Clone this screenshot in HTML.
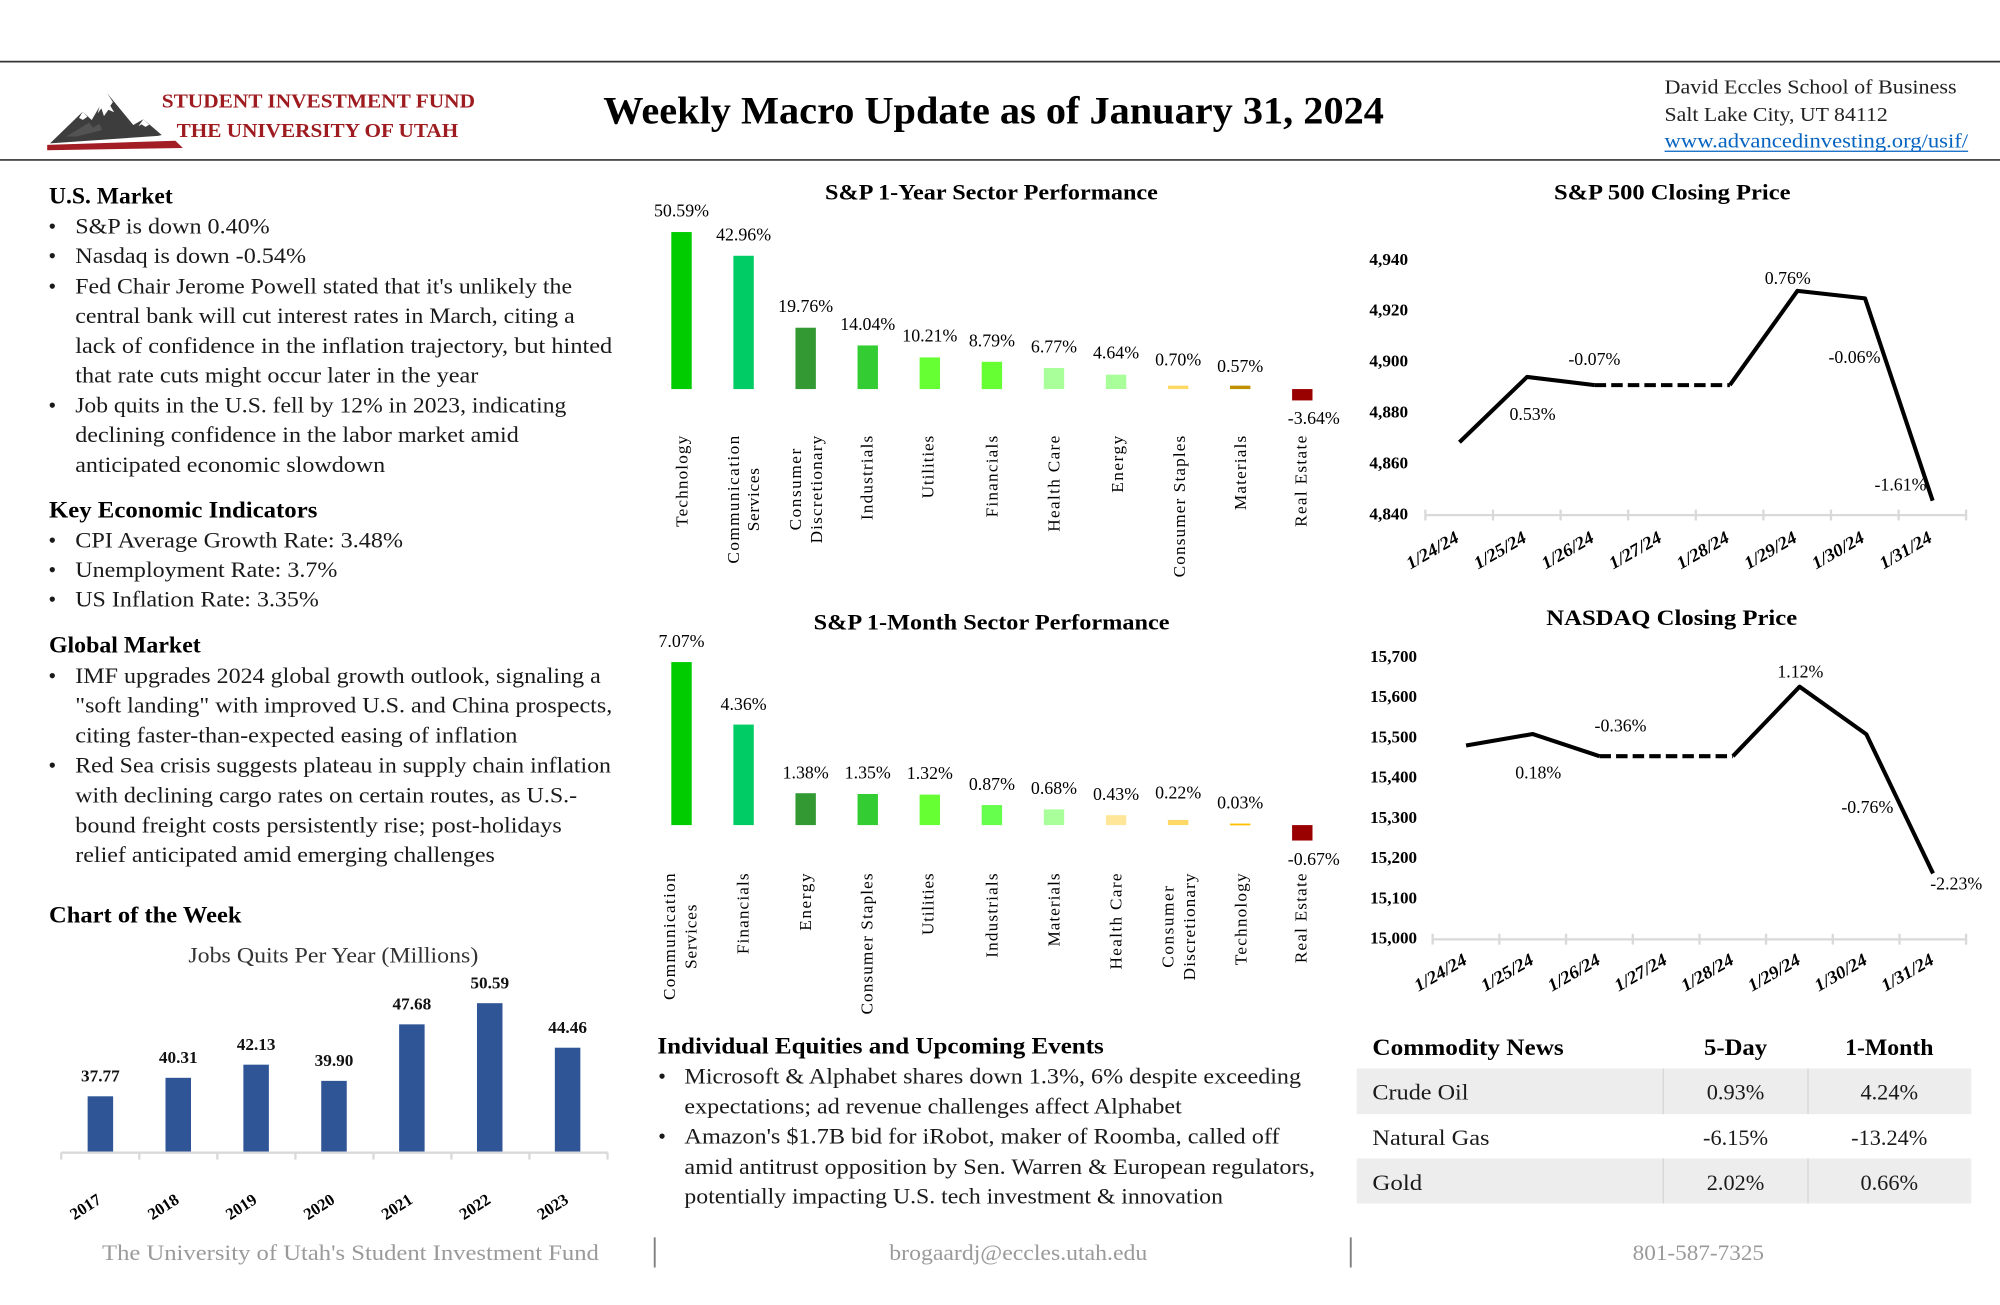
<!DOCTYPE html>
<html><head><meta charset="utf-8"><style>html,body{margin:0;padding:0;background:#fff;}svg{display:block}</style></head>
<body>
<svg xmlns="http://www.w3.org/2000/svg" width="2000" height="1305" viewBox="0 0 1568 1023" preserveAspectRatio="none" font-family="'Liberation Serif', serif">
<rect x="0" y="0" width="1568" height="1023" fill="#fff"/>
<!-- header lines -->
<line x1="0" y1="48.3" x2="1568" y2="48.3" stroke="#333" stroke-width="1.3"/>
<line x1="0" y1="125.4" x2="1568" y2="125.4" stroke="#333" stroke-width="1.3"/>
<!-- logo -->
<polygon points="39.2,112.4 64.8,87.6 71.9,94.1 84.1,73.2 104.5,98 112.4,93.5 126.8,105.8 124,106.5 39.2,112.4" fill="#3d3d3d"/>
<polygon points="84.1,73.2 88.5,80 86.5,83 89.5,88 85,86 81.5,91 79.5,85 76.5,89 79,80" fill="#fff"/>
<polygon points="64.8,87.6 68.5,91.5 65,94 62,92.5" fill="#fff"/>
<polygon points="112.4,93.5 117,97.8 114,99.5 111,97.5 108.5,99" fill="#fff"/>
<polygon points="52,107 70,96 73,100 78,97 80,102 60,107" fill="#6a6a6a" opacity="0.5"/>
<polygon points="37,113.6 137.5,110.3 143.4,116 37,117.8" fill="#a31d24"/>
<text x="126.8" y="84.1" font-size="15.5" font-weight="bold" fill="#9e1b20" textLength="245.6" lengthAdjust="spacingAndGlyphs">STUDENT INVESTMENT FUND</text>
<text x="138.5" y="107.4" font-size="15.5" font-weight="bold" fill="#9e1b20" textLength="220.8" lengthAdjust="spacingAndGlyphs">THE UNIVERSITY OF UTAH</text>
<!-- title -->
<text x="473" y="96.7" font-size="31" font-weight="bold" fill="#000" textLength="612" lengthAdjust="spacingAndGlyphs">Weekly Macro Update as of January 31, 2024</text>
<!-- right header -->
<g font-size="16" fill="#222">
<text x="1305" y="73.2" textLength="229" lengthAdjust="spacingAndGlyphs">David Eccles School of Business</text>
<text x="1305" y="94.9" textLength="175" lengthAdjust="spacingAndGlyphs">Salt Lake City, UT 84112</text>
<text x="1305" y="115.8" fill="#0563C1" textLength="238" lengthAdjust="spacingAndGlyphs">www.advancedinvesting.org/usif/</text>
</g>
<line x1="1305" y1="118.6" x2="1543" y2="118.6" stroke="#0563C1" stroke-width="1"/>

<!-- LEFT COLUMN -->
<g fill="#1a1a1a">
<text x="38.4" y="159.5" font-size="18" font-weight="bold" fill="#000" textLength="97" lengthAdjust="spacingAndGlyphs">U.S. Market</text>
<g font-size="17.5">
<text x="41" y="182.9" text-anchor="middle">•</text>
<text x="41" y="206" text-anchor="middle">•</text>
<text x="41" y="230" text-anchor="middle">•</text>
<text x="41" y="323.5" text-anchor="middle">•</text>
<text x="59" y="182.9" textLength="152.5" lengthAdjust="spacingAndGlyphs">S&amp;P is down 0.40%</text>
<text x="59" y="206" textLength="181" lengthAdjust="spacingAndGlyphs">Nasdaq is down -0.54%</text>
<text x="59" y="230" textLength="389.5" lengthAdjust="spacingAndGlyphs">Fed Chair Jerome Powell stated that it's unlikely the</text>
<text x="59" y="253.3" textLength="391.6" lengthAdjust="spacingAndGlyphs">central bank will cut interest rates in March, citing a</text>
<text x="59" y="276.6" textLength="421" lengthAdjust="spacingAndGlyphs">lack of confidence in the inflation trajectory, but hinted</text>
<text x="59" y="300" textLength="316" lengthAdjust="spacingAndGlyphs">that rate cuts might occur later in the year</text>
<text x="59" y="323.5" textLength="385" lengthAdjust="spacingAndGlyphs">Job quits in the U.S. fell by 12% in 2023, indicating</text>
<text x="59" y="346.6" textLength="347.7" lengthAdjust="spacingAndGlyphs">declining confidence in the labor market amid</text>
<text x="59" y="370" textLength="243" lengthAdjust="spacingAndGlyphs">anticipated economic slowdown</text>
</g>
<text x="38.4" y="405.6" font-size="18" font-weight="bold" fill="#000" textLength="210.4" lengthAdjust="spacingAndGlyphs">Key Economic Indicators</text>
<g font-size="17.5">
<text x="41" y="429" text-anchor="middle">•</text>
<text x="41" y="452.3" text-anchor="middle">•</text>
<text x="41" y="475.6" text-anchor="middle">•</text>
<text x="59" y="429" textLength="257" lengthAdjust="spacingAndGlyphs">CPI Average Growth Rate: 3.48%</text>
<text x="59" y="452.3" textLength="205.5" lengthAdjust="spacingAndGlyphs">Unemployment Rate: 3.7%</text>
<text x="59" y="475.6" textLength="191" lengthAdjust="spacingAndGlyphs">US Inflation Rate: 3.35%</text>
</g>
<text x="38.4" y="511.6" font-size="18" font-weight="bold" fill="#000" textLength="119" lengthAdjust="spacingAndGlyphs">Global Market</text>
<g font-size="17.5">
<text x="41" y="535.4" text-anchor="middle">•</text>
<text x="41" y="605.7" text-anchor="middle">•</text>
<text x="59" y="535.4" textLength="412" lengthAdjust="spacingAndGlyphs">IMF upgrades 2024 global growth outlook, signaling a</text>
<text x="59" y="558.5" textLength="421" lengthAdjust="spacingAndGlyphs">"soft landing" with improved U.S. and China prospects,</text>
<text x="59" y="582" textLength="346.7" lengthAdjust="spacingAndGlyphs">citing faster-than-expected easing of inflation</text>
<text x="59" y="605.7" textLength="420" lengthAdjust="spacingAndGlyphs">Red Sea crisis suggests plateau in supply chain inflation</text>
<text x="59" y="629" textLength="393.5" lengthAdjust="spacingAndGlyphs">with declining cargo rates on certain routes, as U.S.-</text>
<text x="59" y="652.7" textLength="381.4" lengthAdjust="spacingAndGlyphs">bound freight costs persistently rise; post-holidays</text>
<text x="59" y="675.8" textLength="329" lengthAdjust="spacingAndGlyphs">relief anticipated amid emerging challenges</text>
</g>
<text x="38.4" y="723" font-size="18" font-weight="bold" fill="#000" textLength="151" lengthAdjust="spacingAndGlyphs">Chart of the Week</text>
<text x="147.7" y="754.7" font-size="17.5" fill="#333" textLength="227.3" lengthAdjust="spacingAndGlyphs">Jobs Quits Per Year (Millions)</text>
</g>

<!-- Jobs chart -->
<g fill="#2F5597">
<rect x="68.7" y="859.4" width="20" height="44.2"/>
<rect x="129.75" y="844.9" width="20" height="58.7"/>
<rect x="190.8" y="834.6" width="20" height="69"/>
<rect x="251.85" y="847.3" width="20" height="56.3"/>
<rect x="312.9" y="803" width="20" height="100.6"/>
<rect x="373.95" y="786.4" width="20" height="117.2"/>
<rect x="435" y="821.3" width="20" height="82.3"/>
</g>
<g stroke="#d9d9d9" stroke-width="1.8">
<line x1="48" y1="903.6" x2="476.3" y2="903.6"/>
<line x1="48" y1="903.6" x2="48" y2="909"/>
<line x1="109.2" y1="903.6" x2="109.2" y2="909"/>
<line x1="170.4" y1="903.6" x2="170.4" y2="909"/>
<line x1="231.6" y1="903.6" x2="231.6" y2="909"/>
<line x1="292.8" y1="903.6" x2="292.8" y2="909"/>
<line x1="353.9" y1="903.6" x2="353.9" y2="909"/>
<line x1="415.1" y1="903.6" x2="415.1" y2="909"/>
<line x1="476.3" y1="903.6" x2="476.3" y2="909"/>
</g>
<g font-size="13.5" font-weight="bold" fill="#111" text-anchor="middle">
<text x="78.7" y="847.9">37.77</text>
<text x="139.75" y="833.4">40.31</text>
<text x="200.8" y="823.1">42.13</text>
<text x="261.85" y="835.8">39.90</text>
<text x="322.9" y="791.5">47.68</text>
<text x="383.95" y="774.9">50.59</text>
<text x="445" y="809.8">44.46</text>
</g>
<g font-size="13" font-weight="bold" fill="#000" text-anchor="end">
<text transform="translate(80.2,942.5) rotate(-33)">2017</text>
<text transform="translate(141.25,942.5) rotate(-33)">2018</text>
<text transform="translate(202.3,942.5) rotate(-33)">2019</text>
<text transform="translate(263.35,942.5) rotate(-33)">2020</text>
<text transform="translate(324.4,942.5) rotate(-33)">2021</text>
<text transform="translate(385.45,942.5) rotate(-33)">2022</text>
<text transform="translate(446.5,942.5) rotate(-33)">2023</text>
</g>

<!-- 1-Year sector chart -->
<text x="646.8" y="156.3" font-size="17.5" font-weight="bold" fill="#000" textLength="261" lengthAdjust="spacingAndGlyphs">S&amp;P 1-Year Sector Performance</text>
<rect x="526.3" y="181.9" width="16" height="123.1" fill="#00CC00"/>
<rect x="574.97" y="200.5" width="16" height="104.5" fill="#00CC66"/>
<rect x="623.64" y="256.9" width="16" height="48.1" fill="#339933"/>
<rect x="672.31" y="270.8" width="16" height="34.2" fill="#33CC33"/>
<rect x="720.98" y="280.2" width="16" height="24.8" fill="#66FF33"/>
<rect x="769.65" y="283.6" width="16" height="21.4" fill="#66FF33"/>
<rect x="818.32" y="288.5" width="16" height="16.5" fill="#A9FF99"/>
<rect x="866.99" y="293.7" width="16" height="11.3" fill="#A9FF99"/>
<rect x="915.66" y="302.3" width="16" height="2.7" fill="#FFD966"/>
<rect x="964.33" y="302.3" width="16" height="2.7" fill="#BF9000"/>
<rect x="1013" y="305" width="16" height="8.9" fill="#990000"/>
<g font-size="14" fill="#000" text-anchor="middle">
<text x="534.3" y="169.9">50.59%</text>
<text x="582.97" y="188.5">42.96%</text>
<text x="631.64" y="244.5">19.76%</text>
<text x="680.31" y="258.7">14.04%</text>
<text x="728.98" y="267.8">10.21%</text>
<text x="777.65" y="271.8">8.79%</text>
<text x="826.32" y="276.5">6.77%</text>
<text x="874.99" y="281">4.64%</text>
<text x="923.66" y="286.5">0.70%</text>
<text x="972.33" y="291.5">0.57%</text>
<text x="1030" y="332.4">-3.64%</text>
</g>
<g font-size="13.5" fill="#000">
<text transform="translate(538.9,341.6) rotate(-90)" text-anchor="end" textLength="71.4" lengthAdjust="spacing">Technology</text>
<text transform="translate(579.5,391.7) rotate(-90)" text-anchor="middle" textLength="100.2" lengthAdjust="spacing">Communication</text>
<text transform="translate(595,391.7) rotate(-90)" text-anchor="middle" textLength="49.6" lengthAdjust="spacing">Services</text>
<text transform="translate(628.1,383.8) rotate(-90)" text-anchor="middle" textLength="64" lengthAdjust="spacing">Consumer</text>
<text transform="translate(644.4,383.8) rotate(-90)" text-anchor="middle" textLength="84.4" lengthAdjust="spacing">Discretionary</text>
<text transform="translate(684,341.6) rotate(-90)" text-anchor="end" textLength="66.1" lengthAdjust="spacing">Industrials</text>
<text transform="translate(731.9,341.6) rotate(-90)" text-anchor="end" textLength="49.1" lengthAdjust="spacing">Utilities</text>
<text transform="translate(781.9,341.6) rotate(-90)" text-anchor="end" textLength="64" lengthAdjust="spacing">Financials</text>
<text transform="translate(830.5,341.6) rotate(-90)" text-anchor="end" textLength="75.2" lengthAdjust="spacing">Health Care</text>
<text transform="translate(880.3,341.6) rotate(-90)" text-anchor="end" textLength="44.7" lengthAdjust="spacing">Energy</text>
<text transform="translate(928.9,341.6) rotate(-90)" text-anchor="end" textLength="111" lengthAdjust="spacing">Consumer Staples</text>
<text transform="translate(976.8,341.6) rotate(-90)" text-anchor="end" textLength="58.3" lengthAdjust="spacing">Materials</text>
<text transform="translate(1024.3,341.6) rotate(-90)" text-anchor="end" textLength="71.4" lengthAdjust="spacing">Real Estate</text>
</g>

<!-- 1-Month sector chart -->
<text x="637.9" y="493.4" font-size="17.5" font-weight="bold" fill="#000" textLength="279" lengthAdjust="spacingAndGlyphs">S&amp;P 1-Month Sector Performance</text>
<rect x="526.3" y="519" width="16" height="127.8" fill="#00CC00"/>
<rect x="574.97" y="568" width="16" height="78.8" fill="#00CC66"/>
<rect x="623.64" y="621.8" width="16" height="25" fill="#339933"/>
<rect x="672.31" y="622.4" width="16" height="24.4" fill="#33CC33"/>
<rect x="720.98" y="622.9" width="16" height="23.9" fill="#66FF33"/>
<rect x="769.65" y="631.1" width="16" height="15.7" fill="#66FF4D"/>
<rect x="818.32" y="634.5" width="16" height="12.3" fill="#A9FF99"/>
<rect x="866.99" y="639" width="16" height="7.8" fill="#FFE699"/>
<rect x="915.66" y="642.8" width="16" height="4" fill="#FFD966"/>
<rect x="964.33" y="645.6" width="16" height="1.4" fill="#FFC000"/>
<rect x="1013" y="646.8" width="16" height="12.1" fill="#990000"/>
<g font-size="14" fill="#000" text-anchor="middle">
<text x="534.3" y="507">7.07%</text>
<text x="582.97" y="556.6">4.36%</text>
<text x="631.64" y="610.2">1.38%</text>
<text x="680.31" y="610.2">1.35%</text>
<text x="728.98" y="610.5">1.32%</text>
<text x="777.65" y="619.4">0.87%</text>
<text x="826.32" y="622.5">0.68%</text>
<text x="874.99" y="627">0.43%</text>
<text x="923.66" y="626">0.22%</text>
<text x="972.33" y="633.7">0.03%</text>
<text x="1030" y="678.2">-0.67%</text>
</g>
<g font-size="13.5" fill="#000">
<text transform="translate(529.2,734.3) rotate(-90)" text-anchor="middle" textLength="99.3" lengthAdjust="spacing">Communication</text>
<text transform="translate(546.2,734.3) rotate(-90)" text-anchor="middle" textLength="50.5" lengthAdjust="spacing">Services</text>
<text transform="translate(586.8,684.7) rotate(-90)" text-anchor="end" textLength="63.3" lengthAdjust="spacing">Financials</text>
<text transform="translate(636,684.7) rotate(-90)" text-anchor="end" textLength="44.9" lengthAdjust="spacing">Energy</text>
<text transform="translate(684,684.7) rotate(-90)" text-anchor="end" textLength="110.6" lengthAdjust="spacing">Consumer Staples</text>
<text transform="translate(731.9,684.7) rotate(-90)" text-anchor="end" textLength="48.3" lengthAdjust="spacing">Utilities</text>
<text transform="translate(781.9,684.7) rotate(-90)" text-anchor="end" textLength="66.1" lengthAdjust="spacing">Industrials</text>
<text transform="translate(830.5,684.7) rotate(-90)" text-anchor="end" textLength="57.3" lengthAdjust="spacing">Materials</text>
<text transform="translate(879.2,684.7) rotate(-90)" text-anchor="end" textLength="75.3" lengthAdjust="spacing">Health Care</text>
<text transform="translate(920,726.6) rotate(-90)" text-anchor="middle" textLength="64" lengthAdjust="spacing">Consumer</text>
<text transform="translate(937,726.6) rotate(-90)" text-anchor="middle" textLength="83.8" lengthAdjust="spacing">Discretionary</text>
<text transform="translate(977.4,684.7) rotate(-90)" text-anchor="end" textLength="71.9" lengthAdjust="spacing">Technology</text>
<text transform="translate(1024.3,684.7) rotate(-90)" text-anchor="end" textLength="70.3" lengthAdjust="spacing">Real Estate</text>
</g>

<!-- S&P 500 closing price -->
<text x="1218.3" y="156.3" font-size="17.5" font-weight="bold" fill="#000" textLength="185.5" lengthAdjust="spacingAndGlyphs">S&amp;P 500 Closing Price</text>
<g font-size="13.5" font-weight="bold" fill="#000" text-anchor="end">
<text x="1104" y="207.8">4,940</text>
<text x="1104" y="247.5">4,920</text>
<text x="1104" y="287.5">4,900</text>
<text x="1104" y="327.2">4,880</text>
<text x="1104" y="367.2">4,860</text>
<text x="1104" y="407.2">4,840</text>
</g>
<g stroke="#d9d9d9" stroke-width="1.8">
<line x1="1117.5" y1="403.8" x2="1541.4" y2="403.8"/>
<line x1="1117.5" y1="399.5" x2="1117.5" y2="408"/>
<line x1="1170.5" y1="399.5" x2="1170.5" y2="408"/>
<line x1="1223.5" y1="399.5" x2="1223.5" y2="408"/>
<line x1="1276.5" y1="399.5" x2="1276.5" y2="408"/>
<line x1="1329.5" y1="399.5" x2="1329.5" y2="408"/>
<line x1="1382.5" y1="399.5" x2="1382.5" y2="408"/>
<line x1="1435.5" y1="399.5" x2="1435.5" y2="408"/>
<line x1="1488.5" y1="399.5" x2="1488.5" y2="408"/>
<line x1="1541.4" y1="399.5" x2="1541.4" y2="408"/>
</g>
<g fill="none" stroke="#000" stroke-width="3.2" stroke-linejoin="round">
<polyline points="1144.2,346.7 1197.2,295.5 1250.2,301.9"/>
<polyline points="1356.2,301.9 1409.2,228 1462.2,233.9 1515.2,392.5"/>
<line x1="1250.2" y1="301.9" x2="1356.2" y2="301.9" stroke-dasharray="9 4"/>
</g>
<g font-size="14" fill="#000" text-anchor="middle">
<text x="1201.5" y="329.3">0.53%</text>
<text x="1250" y="286.2">-0.07%</text>
<text x="1401.6" y="222.7">0.76%</text>
<text x="1453.9" y="284.4">-0.06%</text>
<text x="1490" y="384.7">-1.61%</text>
</g>
<g font-size="14" font-weight="bold" font-style="italic" fill="#000" text-anchor="end">
<text transform="translate(1144.7,424) rotate(-30)" textLength="45" lengthAdjust="spacingAndGlyphs">1/24/24</text>
<text transform="translate(1197.7,424) rotate(-30)" textLength="45" lengthAdjust="spacingAndGlyphs">1/25/24</text>
<text transform="translate(1250.7,424) rotate(-30)" textLength="45" lengthAdjust="spacingAndGlyphs">1/26/24</text>
<text transform="translate(1303.7,424) rotate(-30)" textLength="45" lengthAdjust="spacingAndGlyphs">1/27/24</text>
<text transform="translate(1356.7,424) rotate(-30)" textLength="45" lengthAdjust="spacingAndGlyphs">1/28/24</text>
<text transform="translate(1409.7,424) rotate(-30)" textLength="45" lengthAdjust="spacingAndGlyphs">1/29/24</text>
<text transform="translate(1462.7,424) rotate(-30)" textLength="45" lengthAdjust="spacingAndGlyphs">1/30/24</text>
<text transform="translate(1515.7,424) rotate(-30)" textLength="45" lengthAdjust="spacingAndGlyphs">1/31/24</text>
</g>

<!-- NASDAQ closing price -->
<text x="1212.3" y="490" font-size="17.5" font-weight="bold" fill="#000" textLength="196.7" lengthAdjust="spacingAndGlyphs">NASDAQ Closing Price</text>
<g font-size="13.4" font-weight="bold" fill="#000" text-anchor="end">
<text x="1111" y="518.8">15,700</text>
<text x="1111" y="550.3">15,600</text>
<text x="1111" y="581.9">15,500</text>
<text x="1111" y="613.4">15,400</text>
<text x="1111" y="645">15,300</text>
<text x="1111" y="676.5">15,200</text>
<text x="1111" y="708.1">15,100</text>
<text x="1111" y="739.6">15,000</text>
</g>
<g stroke="#d9d9d9" stroke-width="1.8">
<line x1="1123.2" y1="736.4" x2="1541.4" y2="736.4"/>
<line x1="1123.2" y1="732" x2="1123.2" y2="740.5"/>
<line x1="1175.5" y1="732" x2="1175.5" y2="740.5"/>
<line x1="1227.8" y1="732" x2="1227.8" y2="740.5"/>
<line x1="1280.1" y1="732" x2="1280.1" y2="740.5"/>
<line x1="1332.4" y1="732" x2="1332.4" y2="740.5"/>
<line x1="1384.6" y1="732" x2="1384.6" y2="740.5"/>
<line x1="1436.9" y1="732" x2="1436.9" y2="740.5"/>
<line x1="1489.2" y1="732" x2="1489.2" y2="740.5"/>
<line x1="1541.4" y1="732" x2="1541.4" y2="740.5"/>
</g>
<g fill="none" stroke="#000" stroke-width="3.2" stroke-linejoin="round">
<polyline points="1149.4,584.4 1201.7,575.4 1254,592.8"/>
<polyline points="1358.6,592.8 1410.9,538.3 1463.2,575.6 1515.5,684.7"/>
<line x1="1254" y1="592.8" x2="1358.6" y2="592.8" stroke-dasharray="9 4"/>
</g>
<g font-size="14" fill="#000" text-anchor="middle">
<text x="1206" y="610.2">0.18%</text>
<text x="1270.5" y="573.6">-0.36%</text>
<text x="1411.5" y="531">1.12%</text>
<text x="1464" y="637.2">-0.76%</text>
<text x="1533.7" y="697.2">-2.23%</text>
</g>
<g font-size="14" font-weight="bold" font-style="italic" fill="#000" text-anchor="end">
<text transform="translate(1151,755) rotate(-30)" textLength="45" lengthAdjust="spacingAndGlyphs">1/24/24</text>
<text transform="translate(1203.3,755) rotate(-30)" textLength="45" lengthAdjust="spacingAndGlyphs">1/25/24</text>
<text transform="translate(1255.6,755) rotate(-30)" textLength="45" lengthAdjust="spacingAndGlyphs">1/26/24</text>
<text transform="translate(1307.9,755) rotate(-30)" textLength="45" lengthAdjust="spacingAndGlyphs">1/27/24</text>
<text transform="translate(1360.2,755) rotate(-30)" textLength="45" lengthAdjust="spacingAndGlyphs">1/28/24</text>
<text transform="translate(1412.5,755) rotate(-30)" textLength="45" lengthAdjust="spacingAndGlyphs">1/29/24</text>
<text transform="translate(1464.8,755) rotate(-30)" textLength="45" lengthAdjust="spacingAndGlyphs">1/30/24</text>
<text transform="translate(1517.1,755) rotate(-30)" textLength="45" lengthAdjust="spacingAndGlyphs">1/31/24</text>
</g>

<!-- Individual equities -->
<text x="515.4" y="825.8" font-size="18" font-weight="bold" fill="#000" textLength="350" lengthAdjust="spacingAndGlyphs">Individual Equities and Upcoming Events</text>
<g font-size="17.5" fill="#1a1a1a">
<text x="519" y="849.4" text-anchor="middle">•</text>
<text x="519" y="896.4" text-anchor="middle">•</text>
<text x="536.6" y="849.4" textLength="483.4" lengthAdjust="spacingAndGlyphs">Microsoft &amp; Alphabet shares down 1.3%, 6% despite exceeding</text>
<text x="536.6" y="872.9" textLength="389.9" lengthAdjust="spacingAndGlyphs">expectations; ad revenue challenges affect Alphabet</text>
<text x="536.6" y="896.4" textLength="466.6" lengthAdjust="spacingAndGlyphs">Amazon's $1.7B bid for iRobot, maker of Roomba, called off</text>
<text x="536.6" y="920.4" textLength="494.4" lengthAdjust="spacingAndGlyphs">amid antitrust opposition by Sen. Warren &amp; European regulators,</text>
<text x="536.6" y="943.4" textLength="422.2" lengthAdjust="spacingAndGlyphs">potentially impacting U.S. tech investment &amp; innovation</text>
</g>

<!-- Commodity table -->
<rect x="1063.7" y="837.6" width="481.8" height="35.8" fill="#ededed"/>
<rect x="1063.7" y="908.1" width="481.8" height="35.3" fill="#ededed"/>
<g stroke="#d6d6d6" stroke-width="1">
<line x1="1304" y1="837.6" x2="1304" y2="873.4"/>
<line x1="1417.5" y1="837.6" x2="1417.5" y2="873.4"/>
<line x1="1304" y1="908.1" x2="1304" y2="943.4"/>
<line x1="1417.5" y1="908.1" x2="1417.5" y2="943.4"/>
</g>
<g font-size="18" font-weight="bold" fill="#000">
<text x="1076" y="827" textLength="150" lengthAdjust="spacingAndGlyphs">Commodity News</text>
<text x="1360.7" y="827" text-anchor="middle" textLength="49.5" lengthAdjust="spacingAndGlyphs">5-Day</text>
<text x="1481.2" y="827" text-anchor="middle" textLength="69.3" lengthAdjust="spacingAndGlyphs">1-Month</text>
</g>
<g font-size="17.5" fill="#1a1a1a">
<text x="1076" y="861.9" textLength="75.3" lengthAdjust="spacingAndGlyphs">Crude Oil</text>
<text x="1076" y="897.7" textLength="91.8" lengthAdjust="spacingAndGlyphs">Natural Gas</text>
<text x="1076" y="933" textLength="39" lengthAdjust="spacingAndGlyphs">Gold</text>
<g text-anchor="middle">
<text x="1360.7" y="861.9">0.93%</text>
<text x="1481.2" y="861.9">4.24%</text>
<text x="1360.7" y="897.7">-6.15%</text>
<text x="1481.2" y="897.7">-13.24%</text>
<text x="1360.7" y="933">2.02%</text>
<text x="1481.2" y="933">0.66%</text>
</g>
</g>

<!-- Footer -->
<g font-size="17.5" fill="#9a9a9a">
<text x="80" y="987.6" textLength="389.5" lengthAdjust="spacingAndGlyphs">The University of Utah's Student Investment Fund</text>
<text x="697.2" y="987.6" textLength="202.3" lengthAdjust="spacingAndGlyphs">brogaardj@eccles.utah.edu</text>
<text x="1280" y="987.6" textLength="103" lengthAdjust="spacingAndGlyphs">801-587-7325</text>
</g>
<line x1="513.3" y1="970" x2="513.3" y2="993.6" stroke="#808080" stroke-width="1.5"/>
<line x1="1059" y1="970" x2="1059" y2="993.6" stroke="#808080" stroke-width="1.5"/>
</svg>
</body></html>
